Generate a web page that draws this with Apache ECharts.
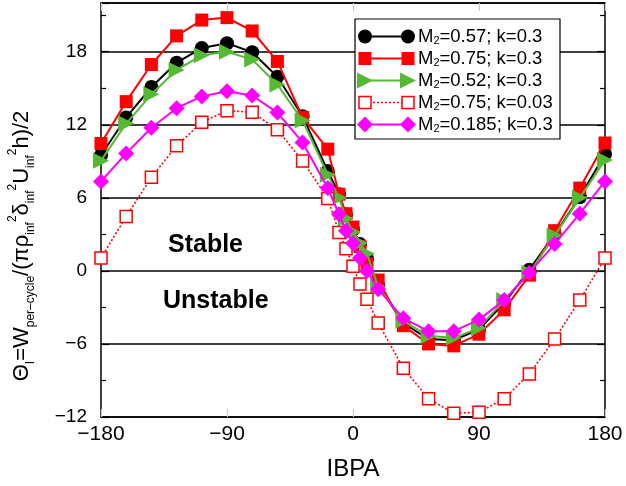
<!DOCTYPE html>
<html>
<head>
<meta charset="utf-8">
<script src="https://cdn.jsdelivr.net/npm/echarts@6/dist/echarts.min.js"></script>
<style>html,body{margin:0;padding:0;background:#fff}#c{width:626px;height:486px}</style>
</head>
<body>
<div id="c"></div>
<script>
var ibpa = [-180,-162,-144,-126,-108,-90,-72,-54,-36,-18,-10,-5,0,5,10,18,36,54,72,90,108,126,144,162,180];
var m057k03 = [9.5,12.6,15.1,17.1,18.3,18.7,17.95,15.95,12.7,8.2,6.3,4.6,3.4,2.2,1.0,-1.2,-4.3,-5.6,-5.7,-4.8,-2.65,0.1,3.0,6.05,9.6];
var m075k03 = [10.46,13.9,16.95,19.3,20.6,20.8,19.7,17.2,12.6,10.0,6.3,4.7,3.6,2.0,0.6,-0.75,-4.5,-6.0,-6.16,-5.2,-3.2,-0.35,3.3,6.8,10.5];
var m052k03 = [9.05,12.1,14.5,16.5,17.7,18.0,17.35,15.3,12.35,7.9,6.0,4.3,3.2,2.3,1.4,-1.3,-4.1,-5.35,-5.5,-4.7,-2.4,-0.16,2.9,6.0,9.1];
var m075k003 = [1.05,4.46,7.68,10.27,12.2,13.16,13.03,11.6,9.03,5.95,3.16,1.81,0.38,-1.08,-2.33,-4.27,-8.0,-10.5,-11.7,-11.6,-10.5,-8.46,-5.6,-2.4,1.05];
var m0185k03 = [7.35,9.65,11.76,13.36,14.33,14.75,14.4,13.0,10.55,6.8,4.65,3.3,2.27,1.05,0.0,-1.5,-3.9,-4.95,-4.95,-4.0,-2.4,-0.15,2.2,4.7,7.35];
var xTicks = [-180,-90,0,90,180];
var yTicks = [-12,-6,0,6,12,18];
var legendNames = ['0.57; k=0.3','0.75; k=0.3','0.52; k=0.3','0.75; k=0.03','0.185; k=0.3'];

var FONT = 'Liberation Sans';
var GREEN = '#55b935';
function pairs(ys){ return ibpa.map(function(x,i){return [x, ys[i]];}); }
function minus(v){ return String(v).replace('-', '\u2212'); }

var chart = echarts.init(document.getElementById('c'), null, {renderer:'canvas'});

var seriesDefs = [
  {data:m057k03, color:'#000', symbol:'circle', size:14, rot:0, fill:'#000', dash:'solid'},
  {data:m075k03, color:'#ff0000', symbol:'rect', size:13, rot:0, fill:'#ff0000', dash:'solid'},
  {data:m052k03, color:GREEN, symbol:'triangle', size:16, rot:-90, fill:GREEN, dash:'solid'},
  {data:m075k003, color:'#ff0000', symbol:'rect', size:12, rot:0, fill:'#fff', dash:[2,2]},
  {data:m0185k03, color:'#ff00ff', symbol:'diamond', size:16, rot:0, fill:'#ff00ff', dash:'solid'}
];

var series = seriesDefs.map(function(d, i){
  return {
    type:'line', name:'M2=' + legendNames[i], data:pairs(d.data),
    xAxisIndex:0, yAxisIndex:0,
    symbol:d.symbol, symbolSize:d.size, symbolRotate:d.rot, showAllSymbol:true,
    lineStyle:{color:d.color, width: d.dash==='solid'?2:1.6, type:d.dash},
    itemStyle:{color:d.fill, borderColor:d.color, borderWidth: d.fill==='#fff'?1.5:0, opacity:1},
    z: 3 + i, animation:false, silent:true
  };
});

// legend drawn as graphic
var legendEls = [];
var lx = 355, ly = 19, lw = 205, lh = 120;
legendEls.push({type:'rect', shape:{x:lx, y:ly, width:lw, height:lh}, style:{fill:'#fff', stroke:'#000', lineWidth:1.2}, z:100});
var rowY = [36.5, 58.5, 80.5, 102.5, 124.5];
seriesDefs.forEach(function(d, i){
  var y = rowY[i], x1 = 365, x2 = 408;
  legendEls.push({type:'line', shape:{x1:x1, y1:y, x2:x2, y2:y}, style:{stroke:d.color, lineWidth: d.dash==='solid'?2:1.6, lineDash: d.dash==='solid'?null:[2,2]}, z:101});
  [x1, x2].forEach(function(cx){
    var el;
    var s = d.size/2;
    if (d.symbol === 'circle') el = {type:'circle', shape:{cx:cx, cy:y, r:7}, style:{fill:d.fill}};
    else if (d.symbol === 'rect') el = {type:'rect', shape:{x:cx-s, y:y-s, width:2*s, height:2*s}, style:{fill:d.fill, stroke: d.fill==='#fff'?d.color:null, lineWidth:1.5}};
    else if (d.symbol === 'triangle') el = {type:'polygon', shape:{points:[[cx-8,y-8],[cx+8,y],[cx-8,y+8]]}, style:{fill:d.fill}};
    else el = {type:'polygon', shape:{points:[[cx,y-8],[cx+8,y],[cx,y+8],[cx-8,y]]}, style:{fill:d.fill}};
    el.z = 102;
    legendEls.push(el);
  });
  legendEls.push({type:'text', x:418, y:y, z:102, style:{
    text:'{m|M}{s|2}{m|=' + legendNames[i] + '}', verticalAlign:'middle', align:'left',
    rich:{m:{fontFamily:FONT, fontSize:18.5, fill:'#000', lineHeight:20, verticalAlign:'middle'},
          s:{fontFamily:FONT, fontSize:11, fill:'#000', lineHeight:10, verticalAlign:'bottom'}}
  }});
});

var yTitle = '{m|\u0398}{s|I}{m|=W}{s|per\u2013cycle}{m|/(\u03c0\u03c1}{s|inf}{p|2}{m|\u03b4}{s|inf}{p|2}{m|U}{s|inf}{p|2}{m|h)/2}';

var option = {
  backgroundColor:'#fff',
  animation:false,
  textStyle:{fontFamily:FONT},
  grid:{left:101, right:21, top:3, bottom:63, containLabel:false},
  xAxis:[{
    type:'value', min:-180, max:180, interval:90, position:'bottom',
    axisLine:{show:true, onZero:false, lineStyle:{color:'#000', width:1.5}},
    axisTick:{show:true, inside:true, length:8, lineStyle:{color:'#c8c8c8', width:1.2}},
    axisLabel:{show:true, fontSize:21, color:'#000', margin:7, fontFamily:FONT,
      formatter:function(v){ return xTicks.indexOf(v) >= 0 ? minus(v) : ''; }},
    splitLine:{show:false},
    name:'IBPA', nameLocation:'middle', nameGap:40,
    nameTextStyle:{fontSize:24, color:'#000', fontFamily:FONT}
  },{
    type:'value', min:-180, max:180, interval:90, position:'top',
    axisLine:{show:true, onZero:false, lineStyle:{color:'#000', width:1.5}},
    axisTick:{show:true, inside:true, length:8, lineStyle:{color:'#c8c8c8', width:1.2}},
    axisLabel:{show:false}, splitLine:{show:false}
  }],
  yAxis:[{
    type:'value', min:-12, max:22, interval:6, position:'left',
    axisLine:{show:true, onZero:false, lineStyle:{color:'#000', width:1.5}},
    axisTick:{show:true, inside:true, length:8, lineStyle:{color:'#000', width:1.2}},
    minorTick:{show:true, splitNumber:2, length:5, lineStyle:{color:'#000', width:1.2}},
    axisLabel:{show:true, fontSize:19, color:'#000', margin:14, fontFamily:FONT,
      formatter:function(v){ return yTicks.indexOf(v) >= 0 ? minus(v) : ''; }},
    splitLine:{show:true, lineStyle:{color:'#000', width:1.5}}
  },{
    type:'value', min:-12, max:22, interval:6, position:'right',
    axisLine:{show:true, onZero:false, lineStyle:{color:'#000', width:1.5}},
    axisTick:{show:true, inside:true, length:8, lineStyle:{color:'#000', width:1.2}},
    minorTick:{show:true, splitNumber:2, length:5, lineStyle:{color:'#000', width:1.2}},
    axisLabel:{show:false}, splitLine:{show:false}
  }],
  graphic:[
    {type:'text', x:168, y:245, z:50, style:{text:'Stable', fontFamily:FONT, fontWeight:'bold', fontSize:25, fill:'#000', align:'left', verticalAlign:'middle'}},
    {type:'text', x:163, y:301, z:50, style:{text:'Unstable', fontFamily:FONT, fontWeight:'bold', fontSize:25, fill:'#000', align:'left', verticalAlign:'middle'}},
    {type:'text', x:22, y:246, rotation:Math.PI/2, z:50, style:{
      text:yTitle, align:'center', verticalAlign:'middle',
      rich:{
        m:{fontFamily:FONT, fontSize:22, fill:'#000', lineHeight:30, verticalAlign:'middle'},
        s:{fontFamily:FONT, fontSize:12, fill:'#000', lineHeight:12, verticalAlign:'bottom'},
        p:{fontFamily:FONT, fontSize:12, fill:'#000', lineHeight:12, verticalAlign:'top'}
      }
    }}
  ].concat(legendEls),
  series:series
};
chart.setOption(option);
</script>
</body>
</html>
